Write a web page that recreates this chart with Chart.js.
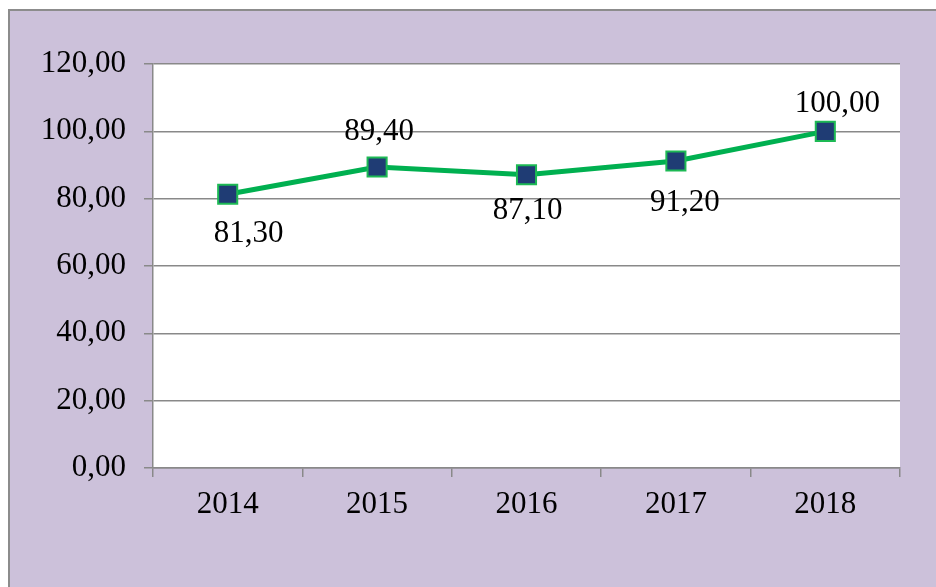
<!DOCTYPE html>
<html>
<head>
<meta charset="utf-8">
<script src="https://cdn.jsdelivr.net/npm/chart.js@4"></script>
<style>
  html, body { margin: 0; padding: 0; background: #ffffff; }
  canvas { display: block; }
</style>
</head>
<body>
<canvas id="c" width="936" height="587"></canvas>
<script>
// ---- data ----
const categories = ['2014', '2015', '2016', '2017', '2018'];
const values = [81.3, 89.4, 87.1, 91.2, 100.0];
const yMin = 0, yMax = 120, yStep = 20;

// ---- styles / layout (not data) ----
const FONT = "'Liberation Serif', 'Times New Roman', serif";
const FONT_SIZE = 31;
const GRID = '#898989';
const labelOffsets = [[21, 40], [2, -35], [1, 36], [9, 42], [12, -27]];

const fmt = v => Number(v).toFixed(2).replace('.', ',');

const frame = {
  id: 'frame',
  beforeDraw(chart) {
    const ctx = chart.ctx, a = chart.chartArea;
    ctx.save();
    ctx.fillStyle = '#ffffff';
    ctx.fillRect(0, 0, chart.width, chart.height);
    ctx.fillStyle = '#CCC1DA';
    ctx.fillRect(9, 10, chart.width, chart.height);
    ctx.strokeStyle = '#8c8c8c';
    ctx.lineWidth = 2;
    ctx.beginPath();
    ctx.moveTo(9, chart.height + 5);
    ctx.lineTo(9, 10);
    ctx.lineTo(chart.width + 5, 10);
    ctx.stroke();
    ctx.fillStyle = '#ffffff';
    ctx.fillRect(a.left, a.top, a.right - a.left, a.bottom - a.top);
    ctx.restore();
  }
};

const dataLabels = {
  id: 'dataLabels',
  afterDatasetsDraw(chart) {
    const ctx = chart.ctx;
    const meta = chart.getDatasetMeta(0);
    ctx.save();
    ctx.font = FONT_SIZE + 'px ' + FONT;
    ctx.fillStyle = '#000000';
    ctx.textAlign = 'center';
    ctx.textBaseline = 'middle';
    meta.data.forEach((pt, i) => {
      const off = labelOffsets[i];
      ctx.fillText(fmt(values[i]), pt.x + off[0], pt.y + off[1]);
    });
    ctx.restore();
  }
};

new Chart(document.getElementById('c'), {
  type: 'line',
  data: {
    labels: categories,
    datasets: [{
      data: values,
      borderColor: '#00B050',
      borderWidth: 5,
      tension: 0,
      pointStyle: 'rect',
      pointRadius: 13.5,
      pointHoverRadius: 13.5,
      pointBackgroundColor: '#1F3C74',
      pointBorderColor: '#1DB954',
      pointBorderWidth: 2,
      clip: false
    }]
  },
  options: {
    responsive: false,
    animation: false,
    devicePixelRatio: 1,
    layout: { padding: { top: 64, right: 36, left: 0, bottom: 0 } },
    plugins: { legend: { display: false }, tooltip: { enabled: false } },
    scales: {
      x: {
        type: 'category',
        offset: true,
        grid: { display: true, drawOnChartArea: false, drawTicks: true, tickLength: 9, color: GRID, lineWidth: 1.5, offset: true },
        border: { display: true, color: GRID, width: 1.5 },
        ticks: { font: { family: FONT, size: FONT_SIZE }, color: '#000', padding: 9, maxRotation: 0 },
        afterFit(s) { s.height = 119; }
      },
      y: {
        min: yMin, max: yMax,
        grid: { color: GRID, lineWidth: 1.5, tickLength: 9, drawTicks: true },
        border: { display: true, color: GRID, width: 1.5 },
        ticks: { stepSize: yStep, font: { family: FONT, size: FONT_SIZE }, color: '#000', padding: 18, callback: v => fmt(v) },
        afterFit(s) { s.width = 153; }
      }
    }
  },
  plugins: [frame, dataLabels]
});
</script>
</body>
</html>
